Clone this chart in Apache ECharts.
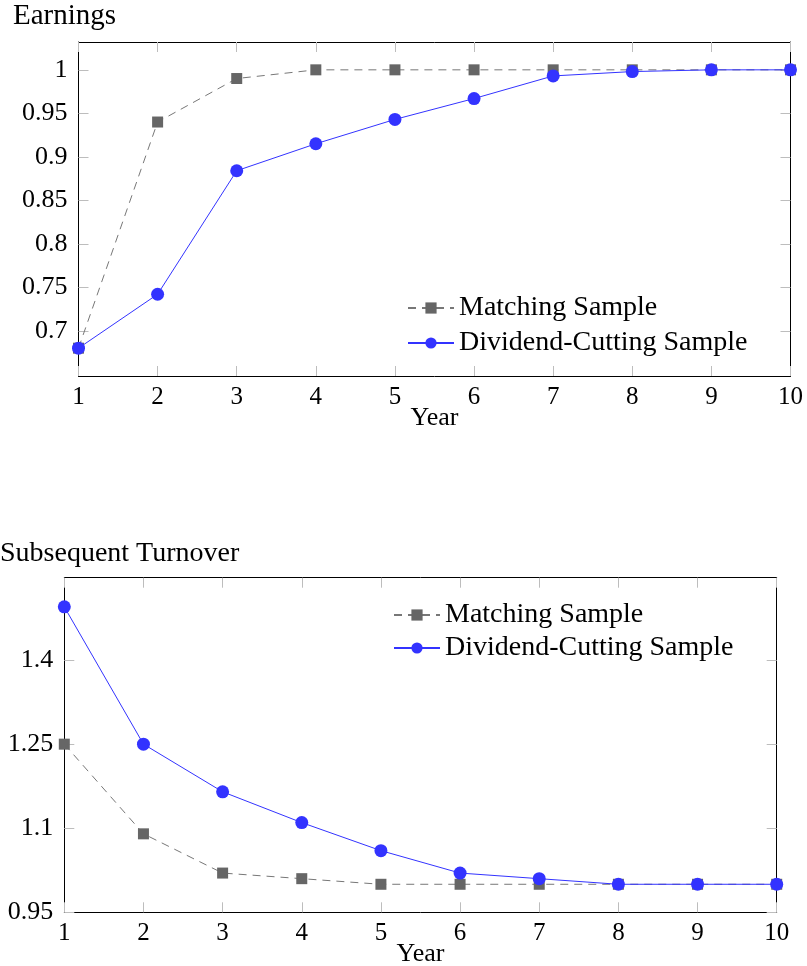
<!DOCTYPE html>
<html lang="en">
  <head>
    <meta charset="utf-8" />
    <script src="https://cdn.jsdelivr.net/npm/echarts@6/dist/echarts.min.js"></script>
  </head>
  <body style="margin: 0">
    <div id="container" style="width: 807px; height: 966px"></div>
    <script type="text/javascript">
      var dom = document.getElementById("container");
      var myChart = echarts.init(dom, null, { renderer: "canvas" });

      const years = [1, 2, 3, 4, 5, 6, 7, 8, 9, 10];
      const earnMatching = [0.68, 0.94, 0.99, 1, 1, 1, 1, 1, 1, 1];
      const earnCutting = [0.68, 0.742, 0.884, 0.915, 0.943, 0.967, 0.993, 0.998, 1, 1];
      const turnMatching = [1.25, 1.09, 1.02, 1.01, 1.0, 1.0, 1.0, 1.0, 1.0, 1.0];
      const turnCutting = [1.495, 1.25, 1.165, 1.11, 1.06, 1.02, 1.01, 1.0, 1.0, 1.0];
      const earnTicks = [0.7, 0.75, 0.8, 0.85, 0.9, 0.95, 1];
      const turnTicks = [0.95, 1.1, 1.25, 1.4];

      const font = "Liberation Serif";
      const grayColor = "#666666";
      const blueColor = "#3333ff";
      const tickColor = "#bdbdbd";

      function pairs(xs, ys) {
        return xs.map((x, i) => [x, ys[i]]);
      }

      // bottom / top x axes and left / right y axes for one panel
      function xAxes(gridIndex) {
        return [
          {
            type: "value",
            gridIndex: gridIndex,
            position: "bottom",
            min: 1,
            max: 10,
            interval: 1,
            name: "Year",
            nameLocation: "middle",
            nameGap: 29,
            nameMoveOverlap: false,
            nameTextStyle: { fontFamily: font, fontSize: 26, color: "#000" },
            axisLine: { show: true, lineStyle: { color: "#000", width: 1 } },
            axisTick: { inside: true, length: 10, lineStyle: { color: tickColor } },
            axisLabel: { fontFamily: font, fontSize: 25, color: "#000", margin: 9 },
            splitLine: { show: false },
          },
          {
            type: "value",
            gridIndex: gridIndex,
            position: "top",
            min: 1,
            max: 10,
            interval: 1,
            axisLine: { show: true, lineStyle: { color: "#000", width: 1 } },
            axisTick: { inside: true, length: 10, lineStyle: { color: tickColor } },
            axisLabel: { show: false },
            splitLine: { show: false },
          },
        ];
      }

      function yAxes(gridIndex, min, max, ticks) {
        return [
          {
            type: "value",
            gridIndex: gridIndex,
            position: "left",
            min: min,
            max: max,
            axisLine: { show: true, lineStyle: { color: "#000", width: 1 } },
            axisTick: {
              inside: true,
              length: 10,
              customValues: ticks,
              lineStyle: { color: tickColor },
            },
            axisLabel: {
              fontFamily: font,
              fontSize: 26,
              color: "#000",
              margin: 11,
              customValues: ticks,
            },
            splitLine: { show: false },
          },
          {
            type: "value",
            gridIndex: gridIndex,
            position: "right",
            min: min,
            max: max,
            axisLine: { show: true, lineStyle: { color: "#000", width: 1 } },
            axisTick: {
              inside: true,
              length: 10,
              customValues: ticks,
              lineStyle: { color: tickColor },
            },
            axisLabel: { show: false, customValues: ticks },
            splitLine: { show: false },
          },
        ];
      }

      function matchingSeries(axisIndex, ys) {
        return {
          name: "Matching Sample",
          type: "line",
          xAxisIndex: axisIndex,
          yAxisIndex: axisIndex,
          data: pairs(years, ys),
          symbol: "rect",
          symbolSize: 11,
          color: grayColor,
          itemStyle: { color: grayColor },
          lineStyle: { color: "#777", width: 1, type: [8, 6] },
          animation: false,
        };
      }

      function cuttingSeries(axisIndex, ys) {
        return {
          name: "Dividend-Cutting Sample",
          type: "line",
          xAxisIndex: axisIndex,
          yAxisIndex: axisIndex,
          data: pairs(years, ys),
          symbol: "circle",
          symbolSize: 13,
          color: blueColor,
          itemStyle: { color: blueColor },
          lineStyle: { color: blueColor, width: 1 },
          animation: false,
        };
      }

      var option = {
        backgroundColor: "#fff",
        textStyle: { fontFamily: font, color: "#000" },
        title: [
          {
            text: "Earnings",
            left: 13,
            top: 2,
            padding: 0,
            textStyle: { fontFamily: font, fontSize: 29, fontWeight: "normal", color: "#000" },
          },
          {
            text: "Subsequent Turnover",
            left: 0,
            top: 540,
            padding: 0,
            textStyle: { fontFamily: font, fontSize: 28, fontWeight: "normal", color: "#000" },
          },
        ],
        legend: [
          {
            orient: "vertical",
            left: 407,
            top: 294,
            padding: 0,
            itemGap: 7,
            itemWidth: 46,
            itemHeight: 14,
            data: ["Matching Sample", "Dividend-Cutting Sample"],
            textStyle: { fontFamily: font, fontSize: 28, color: "#000" },
          },
          {
            orient: "vertical",
            left: 393,
            top: 601,
            padding: 0,
            itemGap: 5,
            itemWidth: 46,
            itemHeight: 14,
            data: ["Matching Sample", "Dividend-Cutting Sample"],
            textStyle: { fontFamily: font, fontSize: 28, color: "#000" },
          },
        ],
        grid: [
          { left: 78.5, top: 42, width: 712, height: 334, outerBoundsMode: "none" },
          { left: 64.3, top: 577.7, width: 712.4, height: 334.6, outerBoundsMode: "none" },
        ],
        xAxis: [].concat(xAxes(0), xAxes(1)),
        yAxis: [].concat(
          yAxes(0, 0.648, 1.032, earnTicks),
          yAxes(1, 0.95, 1.547, turnTicks)
        ),
        series: [
          matchingSeries(0, earnMatching),
          cuttingSeries(0, earnCutting),
          matchingSeries(2, turnMatching),
          cuttingSeries(2, turnCutting),
        ],
      };

      myChart.setOption(option);
    </script>
  </body>
</html>
